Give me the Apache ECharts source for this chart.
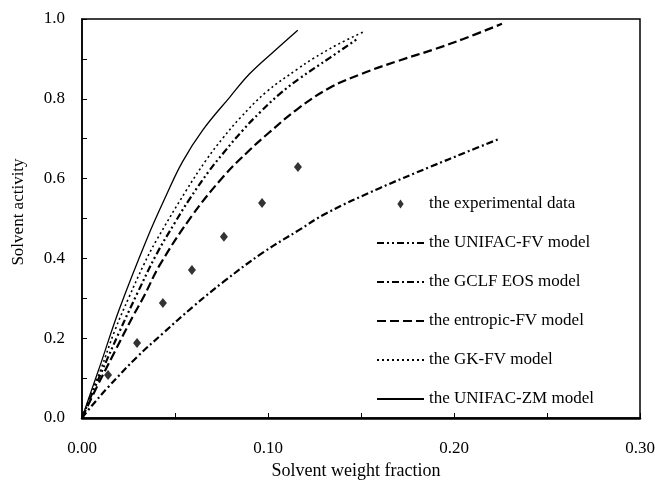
<!DOCTYPE html>
<html>
<head>
<meta charset="utf-8">
<title>Solvent activity vs. solvent weight fraction</title>
<script src="https://cdn.jsdelivr.net/npm/echarts@6/dist/echarts.min.js"></script>
<style>
  html, body { margin: 0; padding: 0; background: #fff; }
  #chart { width: 655px; height: 483px; }
</style>
</head>
<body>
<div id="chart"></div>
<script>
// Measured activities: [solvent weight fraction, solvent activity]
const experimental = [
  [0.0140, 0.108], [0.0296, 0.188], [0.0435, 0.288], [0.0591, 0.371],
  [0.0763, 0.454], [0.0968, 0.539], [0.1161, 0.629]
];

// Model predictions
const unifacFV = [
  [0, 0], [0.005, 0.056], [0.010, 0.110], [0.020, 0.215], [0.030, 0.315],
  [0.040, 0.410], [0.050, 0.490], [0.058, 0.550], [0.068, 0.617],
  [0.0758, 0.663], [0.0866, 0.722], [0.0957, 0.766], [0.1065, 0.813],
  [0.117, 0.851], [0.133, 0.902], [0.148, 0.950]
];

const gclfEOS = [
  [0, 0], [0.005, 0.029], [0.014, 0.077], [0.0296, 0.153], [0.0437, 0.213],
  [0.0597, 0.279], [0.076, 0.341], [0.0968, 0.413], [0.117, 0.472],
  [0.1317, 0.514], [0.160, 0.576], [0.187, 0.629], [0.207, 0.667],
  [0.2235, 0.698]
];

const entropicFV = [
  [0, 0], [0.008, 0.078], [0.0167, 0.158], [0.0274, 0.255], [0.0333, 0.305],
  [0.042, 0.385], [0.059, 0.506], [0.0758, 0.604], [0.090, 0.671],
  [0.100, 0.713], [0.116, 0.775], [0.133, 0.827], [0.150, 0.862],
  [0.170, 0.895], [0.190, 0.925], [0.205, 0.950], [0.2258, 0.988]
];

const gkFV = [
  [0, 0], [0.005, 0.062], [0.010, 0.120], [0.0177, 0.220], [0.0253, 0.303],
  [0.0333, 0.385], [0.040, 0.445], [0.056, 0.570], [0.067, 0.648],
  [0.076, 0.703], [0.085, 0.752], [0.0993, 0.818], [0.116, 0.875],
  [0.124, 0.900], [0.137, 0.935], [0.151, 0.967]
];

const unifacZM = [
  [0, 0], [0.005, 0.068], [0.010, 0.135], [0.020, 0.272], [0.035, 0.450],
  [0.045, 0.555], [0.054, 0.642], [0.065, 0.722], [0.0796, 0.805],
  [0.090, 0.862], [0.103, 0.918], [0.116, 0.972]
];

const seriesNames = [
  'the experimental data', 'the UNIFAC-FV model', 'the GCLF EOS model',
  'the entropic-FV model', 'the GK-FV model', 'the UNIFAC-ZM model'
];

const FONT = '"Liberation Serif", "Times New Roman", serif';

function modelLine(name, data, width, dash) {
  return {
    name: name,
    type: 'line',
    data: data,
    showSymbol: false,
    symbol: 'none',
    smooth: 0.4,
    lineStyle: { color: '#000', width: width, type: dash },
    itemStyle: { color: '#000' },
    z: 3
  };
}

// Legend entries: a small diamond for the measurements, plain line samples for the models
const legendData = seriesNames.map(function (n, i) {
  if (i === 0) {
    return { name: n, icon: 'path://M4,0 L7.5,5 L4,10 L0.5,5 Z', itemStyle: { color: '#000' } };
  }
  return { name: n, itemStyle: { opacity: 0 } };
});

const chart = echarts.init(document.getElementById('chart'), null, { renderer: 'canvas' });

chart.setOption({
  backgroundColor: '#fff',
  animation: false,
  grid: {
    left: 82, top: 19, right: 15, bottom: 65,
    outerBoundsMode: 'none',
    containLabel: false,
    show: true, borderColor: '#000', borderWidth: 1.5, backgroundColor: 'transparent'
  },
  legend: {
    orient: 'vertical',
    left: 376,
    top: 195,
    padding: 0,
    itemWidth: 47,
    itemHeight: 9,
    itemGap: 21,
    symbolKeepAspect: true,
    data: legendData,
    textStyle: { fontFamily: FONT, fontSize: 17, color: '#000', lineHeight: 18 },
    selectedMode: false
  },
  xAxis: {
    type: 'value',
    min: 0, max: 0.30, interval: 0.05,
    name: 'Solvent weight fraction',
    nameLocation: 'middle',
    nameGap: 44,
    nameTextStyle: { fontFamily: FONT, fontSize: 18, color: '#000', padding: [0, 10, 0, 0] },
    axisLine: { show: true, lineStyle: { color: '#000', width: 2.5 } },
    axisTick: { show: true, inside: true, length: 5, lineStyle: { color: '#000', width: 1 } },
    axisLabel: {
      fontFamily: FONT, fontSize: 17, color: '#000', margin: 22,
      formatter: function (v) {
        return Math.round(v * 100) % 10 === 0 ? v.toFixed(2) : '';
      }
    },
    splitLine: { show: false }
  },
  yAxis: {
    type: 'value',
    min: 0, max: 1.0, interval: 0.1,
    name: 'Solvent activity',
    nameLocation: 'middle',
    nameGap: 55,
    nameTextStyle: { fontFamily: FONT, fontSize: 17, color: '#000', padding: [0, 0, 0, 13] },
    axisLine: { show: true, lineStyle: { color: '#000', width: 1.5 } },
    axisTick: { show: true, inside: true, length: 5, lineStyle: { color: '#000', width: 1 } },
    axisLabel: {
      fontFamily: FONT, fontSize: 17, color: '#000', margin: 17,
      formatter: function (v) {
        return Math.round(v * 10) % 2 === 0 ? v.toFixed(1) : '';
      }
    },
    splitLine: { show: false }
  },
  series: [
    {
      name: seriesNames[0],
      type: 'scatter',
      data: experimental,
      symbol: 'diamond',
      symbolSize: [8, 10],
      itemStyle: { color: '#000' },
      z: 4
    },
    modelLine(seriesNames[1], unifacFV, 2.2, [7, 3, 2, 3, 2, 3]),
    modelLine(seriesNames[2], gclfEOS, 2.2, [7, 3, 2, 3]),
    modelLine(seriesNames[3], entropicFV, 2.2, [9, 4]),
    modelLine(seriesNames[4], gkFV, 1.6, [2, 3]),
    modelLine(seriesNames[5], unifacZM, 1.3, 'solid')
  ]
});
</script>
</body>
</html>
